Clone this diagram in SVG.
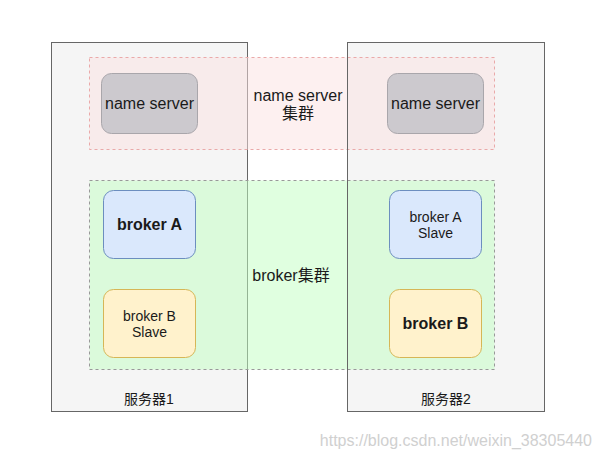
<svg xmlns="http://www.w3.org/2000/svg" width="600" height="460" viewBox="0 0 600 460">
<style>
text{font-family:"Liberation Sans","Noto Sans CJK SC",sans-serif;fill:#1a1a1a;text-anchor:middle}
.server{fill:#f5f5f5;stroke:#666;stroke-width:1}
.outline{fill:none;stroke:#666;stroke-width:1}
.ns{fill:#ccc9ce;stroke:#a9a6ab;stroke-width:1}
.pink{fill:rgb(251,225,225);fill-opacity:0.5;stroke:#eaa9a9;stroke-dasharray:3 3}
.green{fill:rgb(193,255,193);fill-opacity:0.5;stroke:#999;stroke-dasharray:3 3}
.blue{fill:#dae8fc;stroke:#6c8ebf}
.yellow{fill:#fff2cc;stroke:#d6b656}
.t16{font-size:16px}
.t14{font-size:14px}
.b{font-weight:bold;font-size:16px}
</style>
<g id="server1"><rect class="server" x="51.5" y="42.5" width="196" height="369"/><text class="t14" x="149" y="404">服务器1</text></g>
<g id="server2"><rect class="server" x="347.5" y="42.5" width="197" height="369"/><text class="t14" x="446" y="404">服务器2</text></g>
<g id="nameserver-cluster"><rect class="pink" x="89.5" y="57.5" width="405" height="92"/><text class="t16" x="298" y="101">name server</text><text class="t16" x="298" y="119">集群</text></g>
<g id="broker-cluster"><rect class="green" x="89.5" y="180.5" width="405" height="189"/><text class="t16" x="291" y="281">broker集群</text></g>
<rect class="outline" x="347.5" y="42.5" width="197" height="369"/>
<g id="ns1"><rect class="ns" x="101.5" y="73.5" width="96" height="60" rx="10"/><text class="t16" x="149.5" y="109">name server</text></g>
<g id="ns2"><rect class="ns" x="387.5" y="73.5" width="96" height="60" rx="10"/><text class="t16" x="435.5" y="109">name server</text></g>
<g id="brokerA"><rect class="blue" x="103.5" y="190.5" width="92" height="68" rx="10"/><text class="b" x="149.5" y="230">broker A</text></g>
<g id="brokerBSlave"><rect class="yellow" x="103.5" y="289.5" width="92" height="68" rx="10"/><text class="t14" x="149.5" y="321">broker B</text><text class="t14" x="149.5" y="337">Slave</text></g>
<g id="brokerASlave"><rect class="blue" x="389.5" y="190.5" width="92" height="68" rx="10"/><text class="t14" x="435.5" y="222">broker A</text><text class="t14" x="435.5" y="238">Slave</text></g>
<g id="brokerB"><rect class="yellow" x="389.5" y="289.5" width="92" height="68" rx="10"/><text class="b" x="435.5" y="329">broker B</text></g>
<g id="connectors"/>
<text x="592" y="446" style="font-size:16px;fill:#d0d0d0;text-anchor:end">https://blog.csdn.net/weixin_38305440</text>
</svg>
